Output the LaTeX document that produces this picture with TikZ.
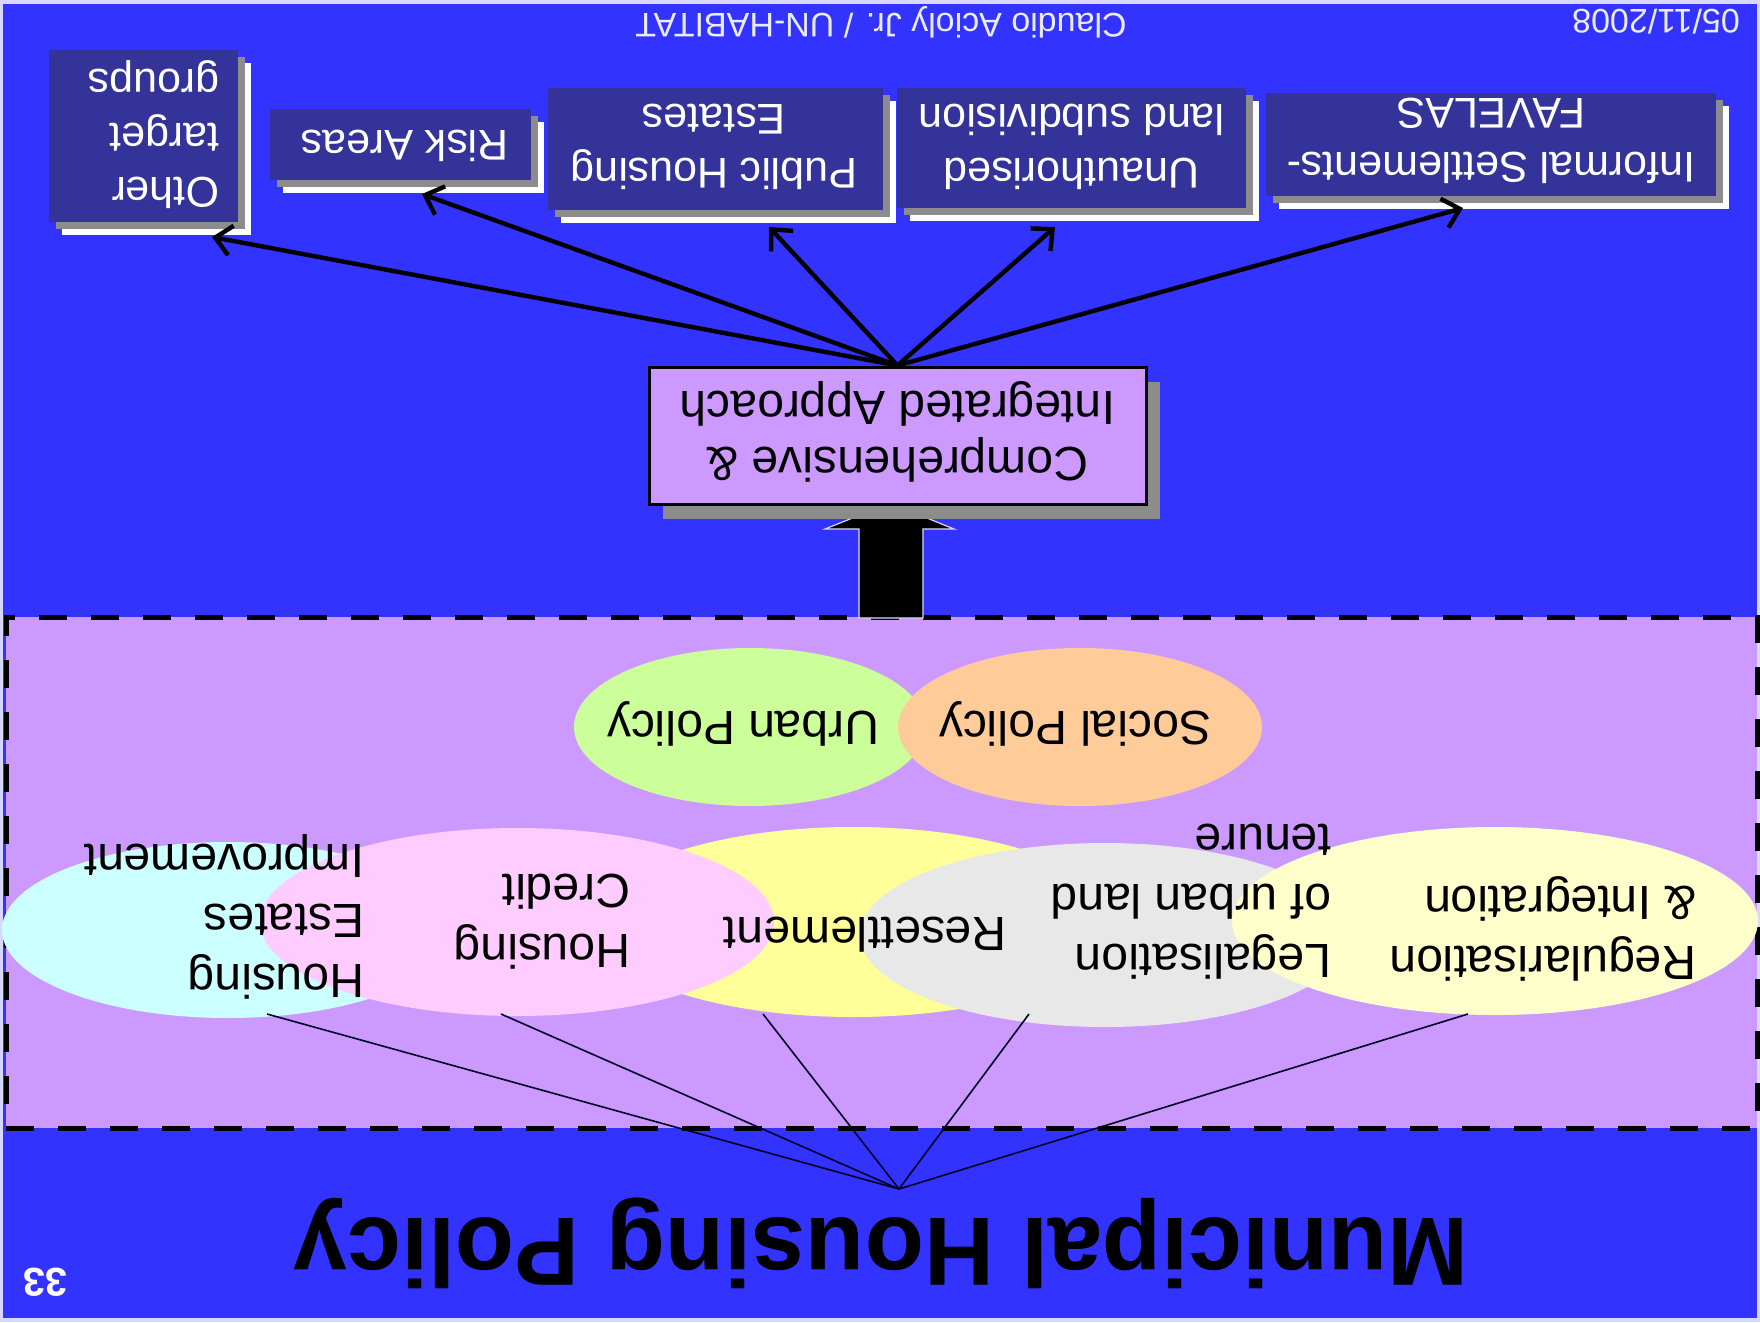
\documentclass[tikz,border=0pt]{standalone}
\usepackage{fontspec}
\setmainfont{Liberation Sans}
\usetikzlibrary{shapes.geometric,arrows.meta,shadows,calc}
\definecolor{bgblue}{HTML}{3333FF}
\definecolor{lavender}{HTML}{CC99FF}
\definecolor{navybox}{HTML}{333399}
\definecolor{shadowgray}{HTML}{8C8C8C}
\definecolor{edgelight}{HTML}{D8D8FF}
\definecolor{cReg}{HTML}{FFFFCC}
\definecolor{cLeg}{HTML}{E8E8E8}
\definecolor{cRes}{HTML}{FFFF99}
\definecolor{cCre}{HTML}{FFCCFF}
\definecolor{cEst}{HTML}{CCFFFF}
\definecolor{cUrb}{HTML}{CCFF99}
\definecolor{cSoc}{HTML}{FFCC99}
\begin{document}
\begin{tikzpicture}[x=0.5pt,y=-0.5pt,
  ell/.style={ellipse, draw=none, inner sep=0pt},
  etext/.style={rotate=180, align=left, inner sep=0pt, text=black, font=\fontsize{24}{30}\selectfont},
  tbox/.style={fill=navybox, draw=none, inner sep=0pt,
    general shadow={fill=white, draw=none, shadow xshift=6.5pt, shadow yshift=-6.5pt},
    general shadow={fill=shadowgray, draw=none, shadow xshift=3.5pt, shadow yshift=-3.5pt}},
  ttext/.style={rotate=180, inner sep=0pt, text=white, font=\fontsize{21.5}{27}\selectfont},
  comparrow/.style={line width=2.2pt, draw=black, -{Straight Barb[length=8pt,width=15pt]}},
  thinline/.style={line width=0.8pt, draw=black!85!blue}
]
\useasboundingbox (0,0) rectangle (1760,1322);
% background
\fill[edgelight] (0,0) rectangle (1760,1322);
\fill[bgblue] (3,4) rectangle (1757,1318);
% housing policy region
\node[fill=lavender, draw=black, line width=2.5pt, dash pattern=on 14pt off 12pt,
      minimum width=875.5pt, minimum height=255.5pt, inner sep=0pt] (hp) at (881.5,872.5) {};
% ellipses
\node[ell, fill=cEst, minimum width=226pt, minimum height=88pt] (est) at (228,930) {};
\node[ell, fill=cRes, minimum width=262pt, minimum height=95pt] (res) at (853,922) {};
\node[ell, fill=cCre, minimum width=257pt, minimum height=94pt] (cre) at (517,922) {};
\node[ell, fill=cLeg, minimum width=245pt, minimum height=92pt] (leg) at (1105,935) {};
\node[ell, fill=cReg, minimum width=263pt, minimum height=94pt] (reg) at (1495,921) {};
\node[ell, fill=cUrb, minimum width=176pt, minimum height=79pt] (urb) at (750,727) {};
\node[ell, fill=cSoc, minimum width=182pt, minimum height=79pt] (soc) at (1080,727) {};
% ellipse texts
\node[etext] (treg) at (1543,929) {Regularisation\\\& Integration};
\node[etext] (tleg) at (1191,902) {Legalisation\\of urban land\\tenure};
\node[etext] (tres) at (865,935) {Resettlement};
\node[etext] (tcre) at (542,922) {Housing\\Credit};
\node[etext] (test) at (224,917) {Housing\\Estates\\Improvement};
\node[etext] (turb) at (743,724) {Urban Policy};
\node[etext] (tsoc) at (1075,724) {Social Policy};
% thin lines to title
\coordinate (hub) at (899,1189);
\coordinate (regf) at (1468,1014);
\coordinate (legf) at (1029,1014);
\coordinate (resf) at (763,1014);
\coordinate (cref) at (501,1014);
\coordinate (estf) at (267,1014);
\foreach \f in {regf,legf,resf,cref,estf} \draw[thinline] (\f) -- (hub);
% title and footer
\node[rotate=180, anchor=base, inner sep=0pt, font=\fontsize{48.5}{58}\selectfont\bfseries] (title) at (881,1218) {Municipal Housing Policy};
\node[rotate=180, inner sep=0pt, text=white, font=\fontsize{20}{24}\selectfont\bfseries] (pnum) at (45,1282) {33};
\node[rotate=180, inner sep=0pt, text=white!92!blue, font=\fontsize{17}{20}\selectfont] (auth) at (881,22) {Claudio Acioly Jr. / UN-HABITAT};
\node[rotate=180, inner sep=0pt, text=white!92!blue, font=\fontsize{17}{20}\selectfont] (date) at (1656,22) {05/11/2008};
% big block arrow
\filldraw[fill=black, draw=white!85!blue, line width=0.6pt]
  (859,618) -- (859,529) -- (825,529) -- (890,503) -- (954,529) -- (923,529) -- (923,618) -- cycle;
% comprehensive box
\node[fill=lavender, draw=black, line width=1.5pt, inner sep=0pt,
      minimum width=248.5pt, minimum height=68.5pt,
      general shadow={fill=shadowgray, draw=none, shadow xshift=7pt, shadow yshift=-7.5pt}]
      (comp) at (897.5,435.5) {};
\node[rotate=180, align=center, inner sep=0pt, text=black, font=\fontsize{24}{28}\selectfont]
      (tcomp) at (897.5,432) {Comprehensive \&\\Integrated Approach};
% target boxes
\node[tbox, minimum width=225pt, minimum height=51.5pt] (inf) at (1491,144.5) {};
\node[tbox, minimum width=174.5pt, minimum height=60pt] (una) at (1071.5,148) {};
\node[tbox, minimum width=167.5pt, minimum height=61pt] (pub) at (715.5,149) {};
\node[tbox, minimum width=130.5pt, minimum height=35.5pt] (risk) at (400.5,144.5) {};
\node[tbox, minimum width=94.5pt, minimum height=86pt] (oth) at (143.5,136) {};
\node[ttext, align=center] (tinfl) at (1491,141) {Informal Settlements-\\FAVELAS};
\node[ttext, align=center] (tunal) at (1071.5,147) {Unauthorised\\land subdivision};
\node[ttext, align=center] (tpubl) at (714,147) {Public Housing\\Estates};
\node[ttext] (triskl) at (405,146) {Risk Areas};
\node[ttext, align=left] (tothl) at (153.5,135) {Other\\target\\groups};
% arrows
\coordinate (tinf) at (1463,208);
\coordinate (tuna) at (1055,227);
\coordinate (tpub) at (769,227);
\coordinate (trisk) at (422,194);
\coordinate (toth) at (212,237);
\foreach \t in {tinf,tuna,tpub,trisk,toth} \draw[comparrow] (comp.north) -- (\t);
\end{tikzpicture}
\end{document}
